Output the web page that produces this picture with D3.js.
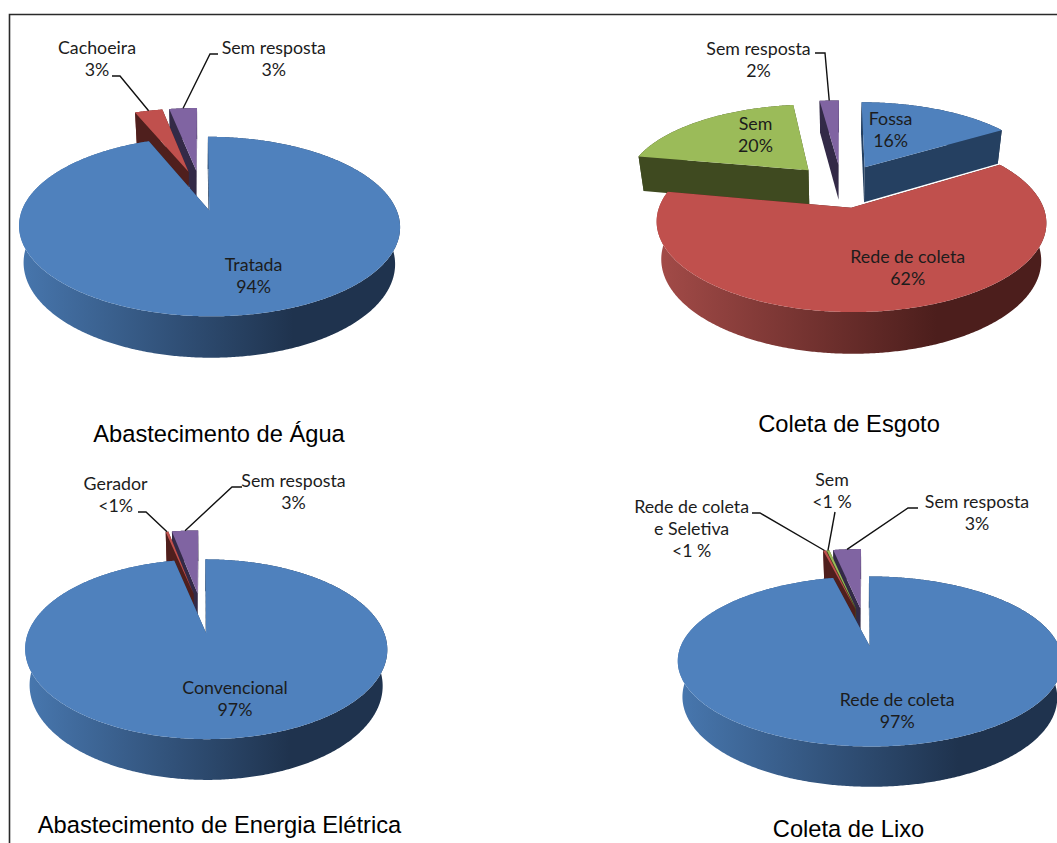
<!DOCTYPE html>
<html lang="pt">
<head>
<meta charset="utf-8">
<title>Infraestrutura: água, esgoto, energia e lixo</title>
<script src="https://cdn.jsdelivr.net/npm/d3@7/dist/d3.min.js"></script>
<style>
  html, body { margin: 0; padding: 0; background: #fff; overflow: hidden; }
  svg { display: block; }
  .rotulo { font-family: Lato, "Noto Sans", sans-serif; font-size: 17.8px; fill: #1c1c1c; text-anchor: middle; }
  .titulo { font-family: "Liberation Sans", Arial, sans-serif; font-size: 23.7px; fill: #000; text-anchor: middle; }
</style>
</head>
<body>
<svg id="painel" width="1057" height="843"></svg>
<script>
// Dados de cada gráfico
const aguaCategorias = ["Tratada", "Cachoeira", "Sem resposta"];
const aguaValores = [94, 3, 3];
const aguaRotulos = ["94%", "3%", "3%"];

const esgotoCategorias = ["Fossa", "Rede de coleta", "Sem", "Sem resposta"];
const esgotoValores = [16, 62, 20, 2];
const esgotoRotulos = ["16%", "62%", "20%", "2%"];

const energiaCategorias = ["Convencional", "Gerador", "Sem resposta"];
const energiaValores = [97, 0.3, 3];
const energiaRotulos = ["97%", "<1%", "3%"];

const lixoCategorias = ["Rede de coleta", "Rede de coleta\ne Seletiva", "Sem", "Sem resposta"];
const lixoValores = [97, 0.3, 0.3, 3];
const lixoRotulos = ["97%", "<1 %", "<1 %", "3%"];

// Cores por fatia: azul, vermelho, verde, roxo
const corTopo = { azul: "#4f81bd", vermelho: "#c0504d", verde: "#9bbb59", roxo: "#8064a2" };
const corParede = { azul: "#254061", vermelho: "#4f1f1d", verde: "#3f4a20", roxo: "#332a47" };
const corGradiente = {
  azul: ["#4776ad", "#1f334e"], vermelho: ["#a34b48", "#4c1e1c"],
  verde: ["#3f4a20", "#3f4a20"], roxo: ["#332a47", "#332a47"]
};

// Geometria e posição dos textos de cada gráfico
const graficos = [
  {
    id: "agua", titulo: "Abastecimento de Água", tituloPos: [219, 441.7],
    categorias: aguaCategorias, valores: aguaValores, rotulos: aguaRotulos,
    cores: ["azul", "vermelho", "roxo"],
    cx: 200.5, cy: 190, rx: 179.5, ry: 79.7, p: 0.172, prof: 35, reducao: 0.975, afastamento: 0.25,
    ancoras: [[253.6, 271], [97, 54], [273.8, 54]],
    guias: [null, [[112, 76], [120, 76]], [[218, 54], [210, 54]]]
  },
  {
    id: "esgoto", titulo: "Coleta de Esgoto", tituloPos: [849, 432],
    categorias: esgotoCategorias, valores: esgotoValores, rotulos: esgotoRotulos,
    cores: ["azul", "vermelho", "verde", "roxo"],
    cx: 841.5, cy: 185.5, rx: 184.3, ry: 80.3, p: 0.156, prof: 36, reducao: 0.975, afastamento: 0.27,
    ancoras: [[890.6, 125], [907.7, 263.3], [755.5, 130], [758.5, 55]],
    guias: [null, null, null, [[815, 53], [825, 53]]]
  },
  {
    id: "energia", titulo: "Abastecimento de Energia Elétrica", tituloPos: [219.5, 832.7],
    categorias: energiaCategorias, valores: energiaValores, rotulos: energiaRotulos,
    cores: ["azul", "vermelho", "roxo"],
    cx: 201.5, cy: 612.4, rx: 170.5, ry: 79.7, p: 0.172, prof: 34.5, reducao: 0.975, afastamento: 0.25,
    ancoras: [[235, 694], [115.6, 490], [293.5, 487.3]],
    guias: [null, [[138, 512], [146, 512]], [[242, 487], [232, 487]]]
  },
  {
    id: "lixo", titulo: "Coleta de Lixo", tituloPos: [848.5, 837],
    categorias: lixoCategorias, valores: lixoValores, rotulos: lixoRotulos,
    cores: ["azul", "vermelho", "verde", "roxo"],
    cx: 864.5, cy: 626.6, rx: 181, ry: 75.4, p: 0.172, prof: 34, reducao: 0.975, afastamento: 0.25,
    ancoras: [[897.2, 706], [691.6, 513.3], [832, 486], [977, 508.3]],
    guias: [null, [[752, 513], [760, 513]], [[835, 512], [835, 512]], [[918, 508], [908, 508]]]
  }
];

const entreLinhas = 21.7;
const svg = d3.select("#painel");
const defs = svg.append("defs");

// Moldura à esquerda e no topo
svg.append("path")
  .attr("d", "M9.5,843V14.5H1057")
  .attr("fill", "none")
  .attr("stroke", "#2a2a2a")
  .attr("stroke-width", 1.6);

const linha = d3.line();
const angulos = d3.pie().sort(null).value(d => d);

graficos.forEach(g => {
  const grupo = svg.append("g").attr("id", g.id);

  // Projeção em perspectiva: (X, Y) no disco unitário, z = 0 topo, z = 1 base
  const projeta = (X, Y, z) => {
    const f = 1 / (1 + g.p * Y) * (z ? g.reducao : 1);
    return [g.cx + g.rx * X * f, g.cy - g.ry * Y * f + z * g.prof * f / (z ? g.reducao : 1)];
  };

  // Gradiente da parede externa, da esquerda para a direita
  g.cores.forEach(c => {
    const grad = defs.append("linearGradient")
      .attr("id", `parede-${g.id}-${c}`)
      .attr("gradientUnits", "userSpaceOnUse")
      .attr("x1", g.cx - g.rx).attr("x2", g.cx + g.rx * 1.05)
      .attr("y1", 0).attr("y2", 0);
    grad.append("stop").attr("offset", 0).attr("stop-color", corGradiente[c][0]);
    grad.append("stop").attr("offset", 0.74).attr("stop-color", corGradiente[c][1]);
    grad.append("stop").attr("offset", 1).attr("stop-color", corGradiente[c][1]);
  });

  const fatias = angulos(g.valores).map((a, i) => {
    const meio = (a.startAngle + a.endAngle) / 2;
    return {
      i, cor: g.cores[i], inicio: a.startAngle, fim: a.endAngle, meio,
      dx: Math.sin(meio) * g.afastamento, dy: Math.cos(meio) * g.afastamento
    };
  });

  // Contorno externo da fatia amostrado a cada meio grau
  const aro = (s, z) => {
    const n = Math.max(2, Math.ceil((s.fim - s.inicio) / (Math.PI / 360)));
    return d3.range(n + 1).map(k => {
      const t = s.inicio + (s.fim - s.inicio) * k / n;
      return projeta(s.dx + Math.sin(t), s.dy + Math.cos(t), z);
    });
  };

  // Fatias do fundo para a frente
  fatias.slice().sort((a, b) => b.dy - a.dy).forEach(s => {
    const gs = grupo.append("g");
    const centro0 = projeta(s.dx, s.dy, 0);
    const centro1 = projeta(s.dx, s.dy, 1);
    const topo = aro(s, 0);
    const base = aro(s, 1);

    // Parede externa
    gs.append("path")
      .attr("d", linha(topo.concat(base.slice().reverse())) + "Z")
      .attr("fill", `url(#parede-${g.id}-${s.cor})`);

    // Paredes radiais
    [[topo[0], base[0]], [topo[topo.length - 1], base[base.length - 1]]].forEach(([a, b]) => {
      gs.append("path")
        .attr("d", linha([centro0, a, b, centro1]) + "Z")
        .attr("fill", corParede[s.cor]);
    });

    // Face superior
    gs.append("path")
      .attr("d", linha([centro0].concat(topo)) + "Z")
      .attr("fill", corTopo[s.cor]);
  });

  // Linhas de chamada até o meio do aro de cada fatia
  fatias.forEach(s => {
    const guia = g.guias[s.i];
    if (!guia) return;
    const alvo = projeta(s.dx + Math.sin(s.meio), s.dy + Math.cos(s.meio), 0);
    grupo.append("path")
      .attr("d", linha(guia.concat([alvo])))
      .attr("fill", "none")
      .attr("stroke", "#111")
      .attr("stroke-width", 1.4);
  });

  // Rótulos de categoria e percentual
  g.categorias.forEach((nome, i) => {
    const [x, y] = g.ancoras[i];
    const linhas = nome.split("\n").concat(g.rotulos[i]);
    const txt = grupo.append("text").attr("class", "rotulo").attr("y", y);
    linhas.forEach((l, k) => {
      txt.append("tspan").attr("x", x).attr("y", y + k * entreLinhas).text(l);
    });
  });

  // Título do gráfico
  grupo.append("text")
    .attr("class", "titulo")
    .attr("x", g.tituloPos[0])
    .attr("y", g.tituloPos[1])
    .text(g.titulo);
});
</script>
</body>
</html>
